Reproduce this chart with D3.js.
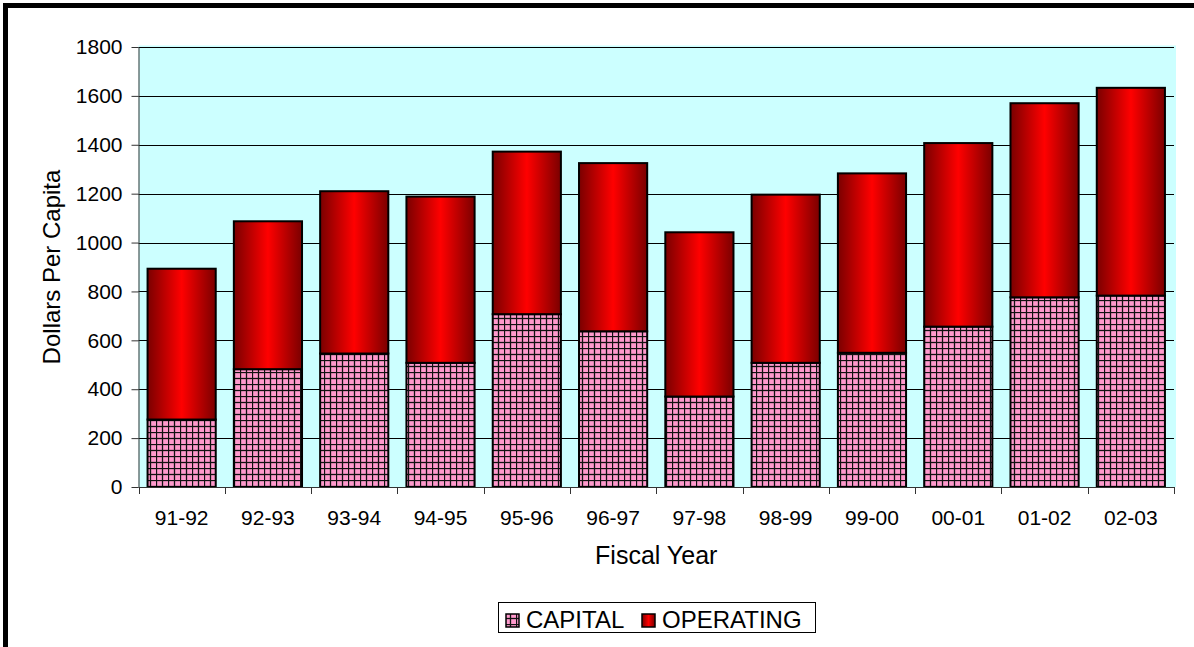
<!DOCTYPE html>
<html>
<head>
<meta charset="utf-8">
<script src="https://cdn.jsdelivr.net/npm/d3@7"></script>
<style>
  html, body { margin: 0; padding: 0; background: #fff; }
  svg { display: block; }
  text { font-family: Arial, "Liberation Sans", sans-serif; fill: #000; }
</style>
</head>
<body>
<svg id="chart" width="1194" height="647"></svg>
<script>
// Fiscal years on the category axis
const fiscalYears = ["91-92", "92-93", "93-94", "94-95", "95-96", "96-97",
                     "97-98", "98-99", "99-00", "00-01", "01-02", "02-03"];
// Dollars per capita, capital spending (bottom segment)
const capital   = [276, 482, 546, 508, 707, 637, 370, 508, 549, 656, 776, 783];
// Dollars per capita, operating spending (stacked on top)
const operating = [617, 605, 664, 680, 665, 688, 672, 688, 734, 751, 794, 850];
// Value axis ticks
const yTicks = [0, 200, 400, 600, 800, 1000, 1200, 1400, 1600, 1800];
const seriesNames = ["CAPITAL", "OPERATING"];

const svg = d3.select("#chart");
const plot = { left: 138.5, right: 1174, top: 47, bottom: 487 };

// Fills: pink cross-hatch for capital, shaded red for operating
const defs = svg.append("defs");
const pat = defs.append("pattern")
  .attr("id", "capGrid").attr("patternUnits", "userSpaceOnUse")
  .attr("width", 12).attr("height", 12);
pat.append("rect").attr("width", 12).attr("height", 12).attr("fill", "#FF99CC");
[0.5, 6.5].forEach(v => {
  pat.append("line").attr("x1", v).attr("x2", v).attr("y1", 0).attr("y2", 12)
    .attr("stroke", "#111").attr("stroke-width", 1.3);
  pat.append("line").attr("y1", v).attr("y2", v).attr("x1", 0).attr("x2", 12)
    .attr("stroke", "#111").attr("stroke-width", 1.3);
});

const grad = defs.append("linearGradient").attr("id", "opShade")
  .attr("x1", "0%").attr("x2", "100%").attr("y1", "0%").attr("y2", "0%");
grad.append("stop").attr("offset", "0%").attr("stop-color", "#7A0000");
grad.append("stop").attr("offset", "50%").attr("stop-color", "#FF0000");
grad.append("stop").attr("offset", "100%").attr("stop-color", "#7A0000");

// Outer frame (thick black edge on the top and left)
svg.append("rect").attr("x", 5.5).attr("y", 5.5)
  .attr("width", 1250).attr("height", 700)
  .attr("fill", "none").attr("stroke", "#000").attr("stroke-width", 5);

const x = d3.scaleBand().domain(fiscalYears)
  .range([plot.left, plot.right]).paddingInner(0.21).paddingOuter(0.105);
const y = d3.scaleLinear().domain([0, 1800]).range([plot.bottom, plot.top]);

// Plot background
svg.append("rect")
  .attr("x", plot.left).attr("y", plot.top - 1.5)
  .attr("width", plot.right - plot.left + 2).attr("height", plot.bottom - plot.top + 1.5)
  .attr("fill", "#CCFFFF");

// Horizontal gridlines
svg.append("g").selectAll("line").data(yTicks.filter(d => d > 0)).join("line")
  .attr("x1", plot.left).attr("x2", plot.right)
  .attr("y1", d => Math.round(y(d)) + 0.5).attr("y2", d => Math.round(y(d)) + 0.5)
  .attr("stroke", "#000").attr("stroke-width", 1);

// Stacked bars
const rows = fiscalYears.map((fy, i) => ({ fy, CAPITAL: capital[i], OPERATING: operating[i] }));
const stacked = d3.stack().keys(seriesNames)(rows);
const fills = { CAPITAL: "url(#capGrid)", OPERATING: "url(#opShade)" };

svg.append("g").selectAll("g").data(stacked).join("g")
  .attr("fill", d => fills[d.key])
  .selectAll("rect").data(d => d).join("rect")
  .attr("x", d => x(d.data.fy))
  .attr("width", x.bandwidth())
  .attr("y", d => y(d[1]))
  .attr("height", d => y(d[0]) - y(d[1]))
  .attr("stroke", "#000").attr("stroke-width", 2);

// Value axis
const yAxis = svg.append("g").attr("transform", `translate(${plot.left},0)`)
  .call(d3.axisLeft(y).tickValues(yTicks).tickFormat(d3.format("d"))
    .tickSize(7).tickPadding(9).tickSizeOuter(0));
yAxis.select(".domain").attr("stroke", "#333");
yAxis.selectAll(".tick line").attr("stroke", "#333");
yAxis.selectAll("text").attr("font-size", 21)
  .attr("font-family", "Arial, 'Liberation Sans', sans-serif").attr("fill", "#000");

// Category axis: ticks sit between the categories
const xAxis = svg.append("g").attr("transform", `translate(0,${plot.bottom})`);
xAxis.append("line").attr("x1", plot.left).attr("x2", plot.right)
  .attr("y1", 0.5).attr("y2", 0.5).attr("stroke", "#333");
const boundaries = fiscalYears.map(fy => x(fy) - x.step() * x.paddingInner() / 2)
  .concat([plot.right]);
xAxis.selectAll("line.tk").data(boundaries).join("line").attr("class", "tk")
  .attr("x1", d => Math.round(d) + 0.5).attr("x2", d => Math.round(d) + 0.5)
  .attr("y1", 0).attr("y2", 7).attr("stroke", "#333");
xAxis.selectAll("text").data(fiscalYears).join("text")
  .attr("x", d => x(d) + x.bandwidth() / 2).attr("y", 38)
  .attr("text-anchor", "middle").attr("font-size", 21).text(d => d);

// Axis titles
svg.append("text").attr("x", (plot.left + plot.right) / 2).attr("y", 564)
  .attr("text-anchor", "middle").attr("font-size", 25).text("Fiscal Year");
svg.append("text")
  .attr("transform", `translate(60,${(plot.top + plot.bottom) / 2}) rotate(-90)`)
  .attr("text-anchor", "middle").attr("font-size", 24).text("Dollars Per Capita");

// Legend
const legend = svg.append("g");
legend.append("rect").attr("x", 498.5).attr("y", 602.5).attr("width", 317).attr("height", 30)
  .attr("fill", "#fff").attr("stroke", "#000").attr("stroke-width", 1);
const legendItems = [
  { key: "CAPITAL", sx: 506, tx: 526 },
  { key: "OPERATING", sx: 642, tx: 662 }
];
legendItems.forEach(it => {
  legend.append("rect").attr("x", it.sx).attr("y", 614).attr("width", 13).attr("height", 13)
    .attr("fill", fills[it.key]).attr("stroke", "#000").attr("stroke-width", 1.5);
  legend.append("text").attr("x", it.tx).attr("y", 628).attr("font-size", 24).text(it.key);
});
</script>
</body>
</html>
